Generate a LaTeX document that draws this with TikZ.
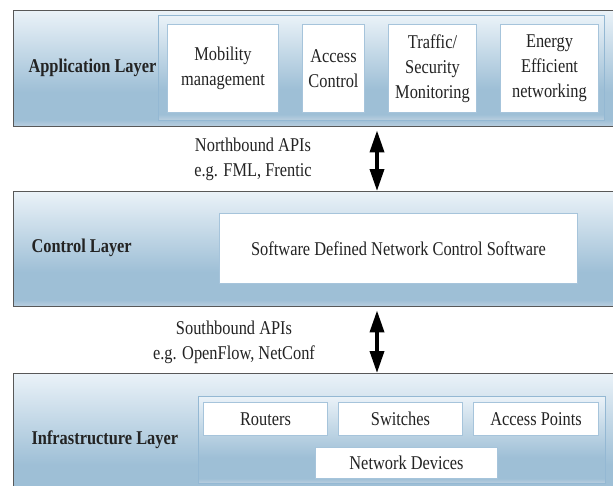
\documentclass[tikz,border=0pt]{standalone}
\usepackage{fontspec}
\setmainfont{Liberation Serif}[FakeStretch=0.84]
\usetikzlibrary{positioning,arrows.meta}
\usepackage{xcolor}
\definecolor{shadetop}{RGB}{234,242,248}
\definecolor{shadelow}{RGB}{158,191,214}
\definecolor{shadeedge}{RGB}{188,208,224}
\definecolor{layeredge}{RGB}{88,88,88}
\definecolor{groupedge}{RGB}{148,184,211}
\definecolor{boxedge}{RGB}{166,196,219}
\definecolor{inkgray}{RGB}{35,35,35}
\pgfdeclareverticalshading{layershade}{100bp}{color(0bp)=(shadeedge); color(25bp)=(shadeedge); color(28bp)=(shadelow); color(40bp)=(shadelow); color(75bp)=(shadetop); color(100bp)=(shadetop)}
\newcommand{\bodyfont}{\fontsize{19.5}{25}\selectfont}

\tikzset{
  layer/.style={draw=layeredge,line width=1.4pt,shade,shading=layershade,
                anchor=north west,inner sep=0pt},
  group/.style={draw=groupedge,line width=1.2pt,shade,shading=layershade,
                anchor=north west,inner sep=0pt},
  unit/.style={draw=boxedge,line width=1pt,fill=white,anchor=north west,
               inner sep=0pt,align=center,text=inkgray,font=\bodyfont},
  layertitle/.style={anchor=west,text=inkgray,font=\bodyfont\bfseries},
  apilabel/.style={align=center,text=inkgray,font=\bodyfont},
  biarrow/.style={line width=3.6pt,
                  {Triangle[width=14pt,length=22pt]}-{Triangle[width=14pt,length=22pt]}}
}

\begin{document}
\begin{tikzpicture}[x=1pt,y=-1pt]
  \useasboundingbox (0,0) rectangle (613,485);
  \clip (0,0) rectangle (613,485);

  % application layer
  \node[layer,minimum width=620pt,minimum height=116pt] (app) at (13,10) {};
  \node[layertitle] (apptitle) at (25,68) {Application Layer};
  \node[group,minimum width=446pt,minimum height=105pt] (appgrp) at (158,15) {};
  \node[unit,minimum width=111pt,minimum height=88pt] (mob) at (167,24) {Mobility\\management};
  \node[unit,minimum width=62pt,minimum height=88pt] (acc) at (302,24) {Access\\Control};
  \node[unit,minimum width=88pt,minimum height=88pt] (traf) at (388,24) {Traffic/\\Security\\Monitoring};
  \node[unit,minimum width=98pt,minimum height=88pt] (energy) at (500,24) {Energy\\Efficient\\networking};

  % control layer
  \node[layer,minimum width=620pt,minimum height=115pt] (ctrl) at (13,191) {};
  \node[layertitle] (ctrltitle) at (28,248) {Control Layer};
  \node[unit,minimum width=358pt,minimum height=70pt] (sdn) at (219,213) {Software Defined Network Control Software};

  % infrastructure layer
  \node[layer,minimum width=620pt,minimum height=130pt] (infra) at (13,373) {};
  \node[layertitle] (infratitle) at (28,440) {Infrastructure Layer};
  \node[group,minimum width=407pt,minimum height=87pt] (infragrp) at (198,396) {};
  \node[unit,minimum width=124pt,minimum height=33pt] (routers) at (203,402) {Routers};
  \node[unit,minimum width=124pt,minimum height=33pt] (switches) at (338,402) {Switches};
  \node[unit,minimum width=125pt,minimum height=33pt] (ap) at (473,402) {Access Points};
  \node[unit,minimum width=182pt,minimum height=31pt] (netdev) at (315,447) {Network Devices};

  % APIs
  \coordinate (apix) at (377,0);
  \node[apilabel] (north) at (253,159) {Northbound APIs\\e.g. FML, Frentic};
  \node[apilabel] (south) at (234,342) {Southbound APIs\\e.g. OpenFlow, NetConf};
  \draw[biarrow,shorten <=3pt] (app.south -| apix) -- (ctrl.north -| apix);
  \draw[biarrow,shorten <=3pt] (ctrl.south -| apix) -- (infra.north -| apix);
\end{tikzpicture}
\end{document}
